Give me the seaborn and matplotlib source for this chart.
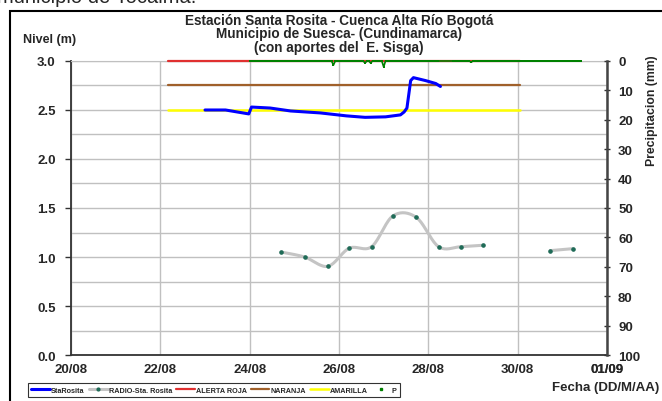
import numpy as np
import pandas as pd
import matplotlib
matplotlib.use("Agg")
import matplotlib.pyplot as plt
import matplotlib.dates as mdates
from matplotlib.lines import Line2D
from matplotlib.patches import Rectangle
import seaborn as sns

# Nivel StaRosita (m)
nivel_fechas = ["2012-08-23 00:00", "2012-08-23 11:00", "2012-08-23 23:30", "2012-08-24 01:00",
                "2012-08-24 11:00", "2012-08-24 22:00", "2012-08-25 14:00", "2012-08-26 04:00",
                "2012-08-26 14:00", "2012-08-27 01:00", "2012-08-27 09:00", "2012-08-27 11:00",
                "2012-08-27 12:30", "2012-08-27 14:30", "2012-08-27 16:00", "2012-08-27 22:30",
                "2012-08-28 04:00", "2012-08-28 06:30"]
nivel_m = [2.50, 2.50, 2.46, 2.53, 2.52, 2.49, 2.47, 2.44, 2.425, 2.43, 2.45, 2.48,
           2.52, 2.80, 2.83, 2.80, 2.77, 2.74]

# RADIO-Sta. Rosita (m)
radio_fechas = ["2012-08-24 17:00", "2012-08-25 05:30", "2012-08-25 18:00", "2012-08-26 05:30",
                "2012-08-26 17:30", "2012-08-27 05:00", "2012-08-27 17:30", "2012-08-28 05:30",
                "2012-08-28 17:30", "2012-08-29 05:30", "2012-08-29 17:30", "2012-08-30 05:30",
                "2012-08-30 17:30", "2012-08-31 05:30"]
radio_m = [1.05, 1.00, 0.905, 1.09, 1.105, 1.42, 1.405, 1.105, 1.105, 1.12,
           np.nan, np.nan, 1.065, 1.085]

# Umbrales
umbral_inicio = "2012-08-22 04:00"
umbral_fin = "2012-08-30 01:00"
alerta_roja = 3.0
naranja = 2.75
amarilla = 2.5

# Precipitacion P (mm), registro horario
p_inicio = "2012-08-24 00:00"
p_fin = "2012-08-31 10:00"
p_vacio = ("2012-08-28 06:00", "2012-08-28 12:00")
p_eventos = {"2012-08-25 21:00": 1.4, "2012-08-26 14:00": 0.7, "2012-08-26 17:00": 0.7,
             "2012-08-27 00:00": 2.0, "2012-08-28 23:00": 0.4}

titulo = "Estación Santa Rosita - Cuenca Alta Río Bogotá\nMunicipio de Suesca- (Cundinamarca)\n(con aportes del  E. Sisga)"

nivel = pd.DataFrame({"fecha": pd.to_datetime(nivel_fechas), "nivel": nivel_m})
radio = pd.DataFrame({"fecha": pd.to_datetime(radio_fechas), "nivel": radio_m})
p = pd.DataFrame({"fecha": pd.date_range(p_inicio, p_fin, freq="h")})
p["mm"] = 0.0
for f, v in p_eventos.items():
    p.loc[p["fecha"] == pd.Timestamp(f), "mm"] = v
p = p[(p["fecha"] < p_vacio[0]) | (p["fecha"] > p_vacio[1])]


def suavizar(x, y, n=20):
    # linea suavizada tipo Excel (Catmull-Rom) entre puntos consecutivos
    xs, ys = [], []
    x = np.asarray(x, float)
    y = np.asarray(y, float)
    ok = ~np.isnan(y)
    grupos = np.split(np.arange(len(y)), np.where(~ok)[0])
    for g in grupos:
        g = g[ok[g]]
        if len(g) < 2:
            continue
        px, py = x[g], y[g]
        px = np.r_[px[0], px, px[-1]]
        py = np.r_[py[0], py, py[-1]]
        t = np.linspace(0, 1, n)
        for i in range(1, len(px) - 2):
            for arr, out in ((px, xs), (py, ys)):
                p0, p1, p2, p3 = arr[i - 1], arr[i], arr[i + 1], arr[i + 2]
                out.extend(0.5 * (2 * p1 + (-p0 + p2) * t + (2 * p0 - 5 * p1 + 4 * p2 - p3) * t ** 2
                                  + (-p0 + 3 * p1 - 3 * p2 + p3) * t ** 3))
        xs.append(np.nan)
        ys.append(np.nan)
    return np.array(xs), np.array(ys)


sns.set_style("white")
plt.rcParams["font.family"] = ["Liberation Sans", "DejaVu Sans"]
plt.rcParams["font.weight"] = "bold"

fig = plt.figure(figsize=(6.62, 4.02), dpi=100)
ax = fig.add_axes([0.1073, 0.1144, 0.8096, 0.7314])

gris = "#c0c0c0"
sns.lineplot(data=nivel, x="fecha", y="nivel", ax=ax, color="#0000ff", lw=2.2, zorder=6)
rx, ry = suavizar(mdates.date2num(radio["fecha"]), radio["nivel"])
ax.plot(rx, ry, color="#c4c4c4", lw=2.2, zorder=4)
ax.plot(radio["fecha"], radio["nivel"], ls="none", marker="o", ms=2.3, color="#1f6b57", zorder=5)

ux = pd.to_datetime([umbral_inicio, umbral_fin])
ax.plot(ux, [alerta_roja] * 2, color="#e03030", lw=1.6, zorder=3, clip_on=False)
ax.plot(ux, [naranja] * 2, color="#a0602a", lw=1.6, zorder=3)
ax.plot(ux, [amarilla] * 2, color="#ffff00", lw=1.8, zorder=3)

ax.set_xlim(pd.Timestamp("2012-08-20"), pd.Timestamp("2012-09-01"))
ax.set_ylim(0, 3)
ax.set_xticks(pd.date_range("2012-08-20", "2012-09-01", freq="2D").append(pd.DatetimeIndex(["2012-09-01"])))
ax.xaxis.set_major_formatter(mdates.DateFormatter("%d/%m"))
ax.set_yticks(np.arange(0, 3.01, 0.5))
ax.set_yticks(np.arange(0, 3.01, 0.25), minor=True)
ax.yaxis.set_major_formatter(matplotlib.ticker.FormatStrFormatter("%.1f"))
ax.grid(True, which="both", axis="y", color=gris, lw=1)
ax.grid(True, which="major", axis="x", color=gris, lw=1)
ax.set_xlabel("")
ax.set_ylabel("")
ax.tick_params(axis="both", which="major", labelsize=9.5, length=4, width=1, color="#333333", pad=2)
ax.tick_params(axis="y", which="major", pad=7)
ax.tick_params(axis="y", which="minor", length=0)
for lab in ax.get_xticklabels() + ax.get_yticklabels():
    lab.set_fontweight("bold")
for s in ["left", "bottom"]:
    ax.spines[s].set_color("#333333")
    ax.spines[s].set_linewidth(1.3)
ax.spines["top"].set_color(gris)
ax.spines["right"].set_visible(False)

ax2 = ax.twinx()
ax2.plot(p["fecha"], p["mm"], color="#008000", lw=1.2, zorder=7, clip_on=False)
sns.scatterplot(data=p, x="fecha", y="mm", ax=ax2, color="#008000", s=2.5, marker="s",
                linewidth=0, zorder=7, clip_on=False)
ax2.set_ylim(100, 0)
ax2.set_yticks(np.arange(0, 101, 10))
ax2.set_ylabel("")
ax2.set_xlabel("")
ax2.tick_params(axis="y", labelsize=9.5, length=4, width=1, direction="inout", color="#333333", pad=6)
for lab in ax2.get_yticklabels():
    lab.set_fontweight("bold")
for s in ["left", "top", "bottom"]:
    ax2.spines[s].set_visible(False)
ax2.spines["right"].set_color("#444444")
ax2.spines["right"].set_linewidth(1.8)
ax2.set_zorder(ax.get_zorder() + 1)
ax2.patch.set_visible(False)
ax.set_xlim(pd.Timestamp("2012-08-20"), pd.Timestamp("2012-09-01"))

fig.text(0.512, 0.965, titulo, ha="center", va="top", fontsize=9.8, fontweight="bold", linespacing=0.93)
fig.text(0.035, 0.90, "Nivel (m)", ha="left", va="center", fontsize=9, fontweight="bold")
fig.text(0.985, 0.725, "Precipitacion (mm)", ha="center", va="center", rotation=90,
         fontsize=8.8, fontweight="bold")
fig.text(0.834, 0.035, "Fecha (DD/M/AA)", ha="left", va="center", fontsize=9.5, fontweight="bold")
fig.text(-0.004, 1 - 3 / 402, "municipio de Tocaima.", ha="left", va="baseline", fontsize=14.5,
         fontweight="normal")

fig.patches.append(Rectangle((10 / 662, -0.1), 1.2, 1.1 - 12 / 402, transform=fig.transFigure,
                             fill=False, edgecolor="black", lw=1.5))

handles = [
    Line2D([], [], color="#0000ff", lw=2.2),
    Line2D([], [], color="#c4c4c4", lw=2.2, marker="o", ms=2, mfc="#1f6b57", mec="#1f6b57"),
    Line2D([], [], color="#e03030", lw=1.6),
    Line2D([], [], color="#a0602a", lw=1.6),
    Line2D([], [], color="#ffff00", lw=1.8),
    Line2D([], [], ls="none", marker="s", ms=2, color="#008000"),
]
labels = ["StaRosita", "RADIO-Sta. Rosita", "ALERTA ROJA", "NARANJA", "AMARILLA", "P"]
leg = fig.legend(handles, labels, loc="center", bbox_to_anchor=(214 / 662, 1 - 391 / 402), ncol=6,
                 frameon=True, fancybox=False, edgecolor="black", handlelength=2.6,
                 handletextpad=0.15, columnspacing=0.55, borderpad=0.45,
                 prop={"weight": "bold", "size": 5.2})
leg.get_frame().set_linewidth(0.8)

fig.savefig("out.png", dpi=100)
